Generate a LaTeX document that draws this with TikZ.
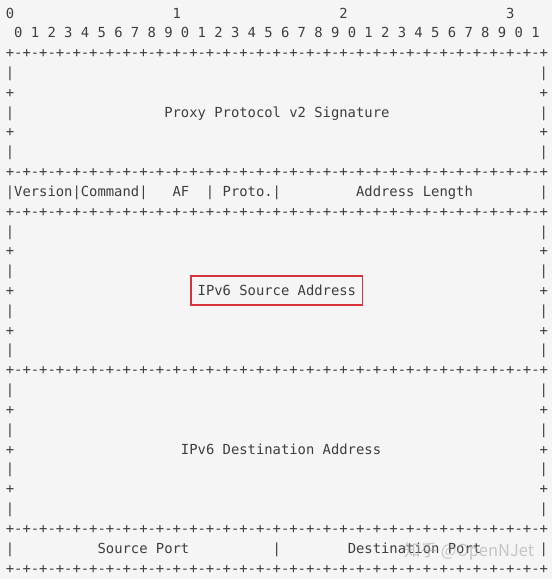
\documentclass[tikz,border=0pt]{standalone}
\usepackage{fontspec}
\usepackage{tikz}
\newfontfamily\asciifont{DejaVu Sans Mono}
\newfontfamily\cjkfont{Noto Sans CJK SC}
\definecolor{paper}{RGB}{245,245,245}
\definecolor{ink}{RGB}{62,62,62}
\definecolor{boxred}{RGB}{214,52,60}
\tikzset{
  ch/.style={anchor=base, inner sep=0pt, text=ink,
    font=\asciifont\fontsize{13.85pt}{16pt}\selectfont},
  redbox/.style={draw=boxred, line width=1.5pt, inner xsep=6.5pt,
    inner ysep=9.5pt, text height=10.1pt, text depth=0pt},
  mark text/.style={anchor=base west, inner sep=0pt, text=black!35,
    opacity=0.6, font=\cjkfont\fontsize{16.5pt}{19pt}\selectfont},
}

\begin{document}
\begin{tikzpicture}[x=1pt, y=-1pt,
  declare function={cx(\c)=10+8.34*\c; ry(\r)=18.05+19.82*\r;}]
    \fill[paper] (0,0) rectangle (552,579);
    \useasboundingbox (0,0) rectangle (552,579);
    % bit numbers
    \foreach \d in {0,...,3}
      \node[ch] (tens-\d) at ({cx(20*\d)},{ry(0)}) {\d};
    \foreach \k in {0,...,31} {
      \pgfmathtruncatemacro{\digit}{mod(\k,10)}
      \node[ch] (bit-\k) at ({cx(2*\k+1)},{ry(1)}) {\digit};
    }
    % +-+-+ rows
    \foreach \r in {2,8,10,18,26,28} {
      \foreach \c in {0,2,...,64}
        \node[ch] (plus-\r-\c) at ({cx(\c)},{ry(\r)}) {+};
      \foreach \c in {1,3,...,63}
        \node[ch] (dash-\r-\c) at ({cx(\c)},{ry(\r)}) {-};
    }
    % left and right edges
    \foreach \r in {3,...,7,11,12,...,17,19,20,...,25} {
      \ifodd\r \def\edge{|}\else \def\edge{+}\fi
      \node[ch] (left-\r) at ({cx(0)},{ry(\r)}) {\edge};
      \node[ch] (right-\r) at ({cx(64)},{ry(\r)}) {\edge};
    }
    \foreach \c in {0,8,16,24,32,64}
      \node[ch] (bar-9-\c) at ({cx(\c)},{ry(9)}) {|};
    \foreach \c in {0,32,64}
      \node[ch] (bar-27-\c) at ({cx(\c)},{ry(27)}) {|};
    % fields
    \node[ch] (sig) at ({cx(32)},{ry(5)}) {Proxy Protocol v2 Signature};
    \node[ch] (ver) at ({cx(4)},{ry(9)}) {Version};
    \node[ch] (cmd) at ({cx(12)},{ry(9)}) {Command};
    \node[ch] (af) at ({cx(20.5)},{ry(9)}) {AF};
    \node[ch] (proto) at ({cx(28.5)},{ry(9)}) {Proto.};
    \node[ch] (len) at ({cx(48.5)},{ry(9)}) {Address Length};
    \node[ch, redbox] (srcaddr) at ({cx(32)},{ry(14)}) {IPv6 Source Address};
    \node[ch] (dstaddr) at ({cx(32.5)},{ry(22)}) {IPv6 Destination Address};
    \node[ch] (srcport) at ({cx(16)},{ry(27)}) {Source Port};
    \node[ch] (dstport) at ({cx(48.5)},{ry(27)}) {Destination Port};
    % watermark
    \node[mark text] (mark) at (404,556) {知乎 @OpenNJet};
\end{tikzpicture}
\end{document}
